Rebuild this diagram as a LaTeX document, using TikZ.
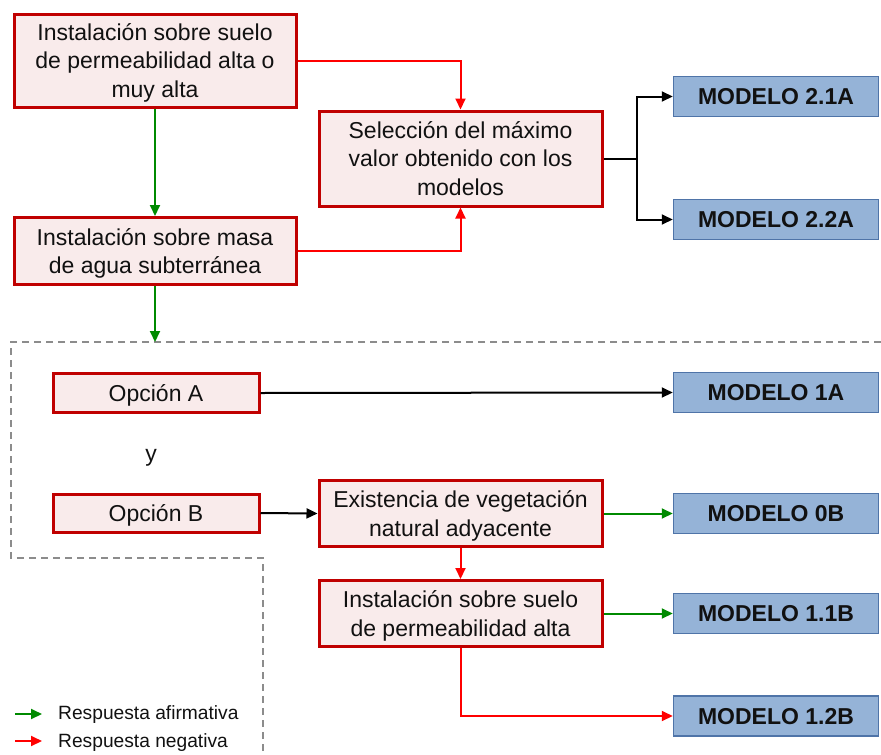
\documentclass[tikz,border=0pt]{standalone}
\usepackage{fontspec}
\setmainfont{Liberation Sans}
\usetikzlibrary{arrows.meta}
\definecolor{boxred}{HTML}{C00000}
\definecolor{boxfill}{HTML}{F9EBEB}
\definecolor{modfill}{HTML}{95B3D7}
\definecolor{moddraw}{HTML}{4F74A8}
\definecolor{okgreen}{HTML}{008A00}
\definecolor{nored}{HTML}{FF0000}
\definecolor{dashgray}{HTML}{8C8C8C}
\definecolor{txt}{HTML}{111111}
\begin{document}
\begin{tikzpicture}[x=1pt,y=-1pt,
  every node/.style={font=\fontsize{23}{28.5}\selectfont, text=txt},
  redbox/.style={draw=boxred, fill=boxfill, line width=3pt, align=center, inner sep=0pt,
    text height=16.5pt, text depth=0pt},
  twoline/.style={text height=45pt},
  threeline/.style={text height=73.5pt},
  modbox/.style={draw=moddraw, fill=modfill, line width=1.5pt, minimum width=205pt, minimum height=40pt, inner sep=0pt,
    text height=16.5pt, text depth=0pt, font=\fontsize{23}{28.5}\selectfont\bfseries},
  conn/.style={line width=2pt, -{Triangle[length=11pt,width=10pt]}},
  posarrow/.style={conn, color=okgreen},
  negarrow/.style={conn, color=nored},
  plainarrow/.style={conn, color=black},
  legendtext/.style={font=\fontsize{19.2}{22}\selectfont, anchor=west, inner sep=0pt}]
\useasboundingbox (0,0) rectangle (881,755);

% dashed frame
\draw[dashgray, line width=1.5pt, dash pattern=on 7pt off 5pt]
  (881,342) -- (11,342) -- (11,558) -- (263,558) -- (263,755);

% red decision boxes
\node[redbox, threeline, minimum width=282pt, minimum height=93pt] (b1) at (155,60.5)
  {Instalación sobre suelo\\de permeabilidad alta o\\muy alta};
\node[redbox, twoline, minimum width=282pt, minimum height=67pt] (b2) at (155,251)
  {Instalación sobre masa\\de agua subterránea};
\node[redbox, threeline, minimum width=283pt, minimum height=95pt] (sel) at (460.5,158.5)
  {Selección del máximo\\valor obtenido con los\\modelos};
\node[redbox, minimum width=206pt, minimum height=39pt] (oa) at (156,393) {Opción A};
\node[redbox, minimum width=206pt, minimum height=38pt] (ob) at (156,513) {Opción B};
\node[redbox, twoline, minimum width=283pt, minimum height=66pt] (veg) at (460.5,513.5)
  {Existencia de vegetación\\natural adyacente};
\node[redbox, twoline, minimum width=283pt, minimum height=66pt] (perm) at (460.5,613.5)
  {Instalación sobre suelo\\de permeabilidad alta};
\node[text height=12pt, text depth=0pt, inner sep=0pt] (ytext) at (151,455) {y};

% model boxes
\node[modbox] (m21) at (776,96.5) {MODELO 2.1A};
\node[modbox] (m22) at (776,219.5) {MODELO 2.2A};
\node[modbox] (m1a) at (776,392.5) {MODELO 1A};
\node[modbox] (m0b) at (776,513.5) {MODELO 0B};
\node[modbox] (m11b) at (776,613.5) {MODELO 1.1B};
\node[modbox] (m12b) at (776,716) {MODELO 1.2B};

% connectors
\coordinate (split) at (637,158.5);
\coordinate (frametop) at (155,342);
\draw[posarrow] (b1.south) -- (b2.north);
\draw[posarrow] (b2.south) -- (frametop);
\draw[negarrow] (b1.east) -| (sel.north);
\draw[negarrow] (b2.east) -| (sel.south);
\draw[line width=2pt] (sel.east) -- (split);
\draw[plainarrow] (split) |- (m21.west);
\draw[plainarrow] (split) |- (m22.west);
\draw[plainarrow] (oa.east) -- (m1a.west);
\draw[plainarrow] (ob.east) -- (veg.west);
\draw[posarrow] (veg.east) -- (m0b.west);
\draw[negarrow] (veg.south) -- (perm.north);
\draw[posarrow] (perm.east) -- (m11b.west);
\draw[negarrow] (perm.south) |- (m12b.west);

% legend
\coordinate (lg1a) at (15,714);
\coordinate (lg1b) at (42,714);
\coordinate (lg2a) at (15,741);
\coordinate (lg2b) at (42,741);
\draw[posarrow] (lg1a) -- (lg1b);
\draw[negarrow] (lg2a) -- (lg2b);
\node[legendtext] (lt1) at (58,715) {Respuesta afirmativa};
\node[legendtext] (lt2) at (58,743) {Respuesta negativa};
\end{tikzpicture}
\end{document}
